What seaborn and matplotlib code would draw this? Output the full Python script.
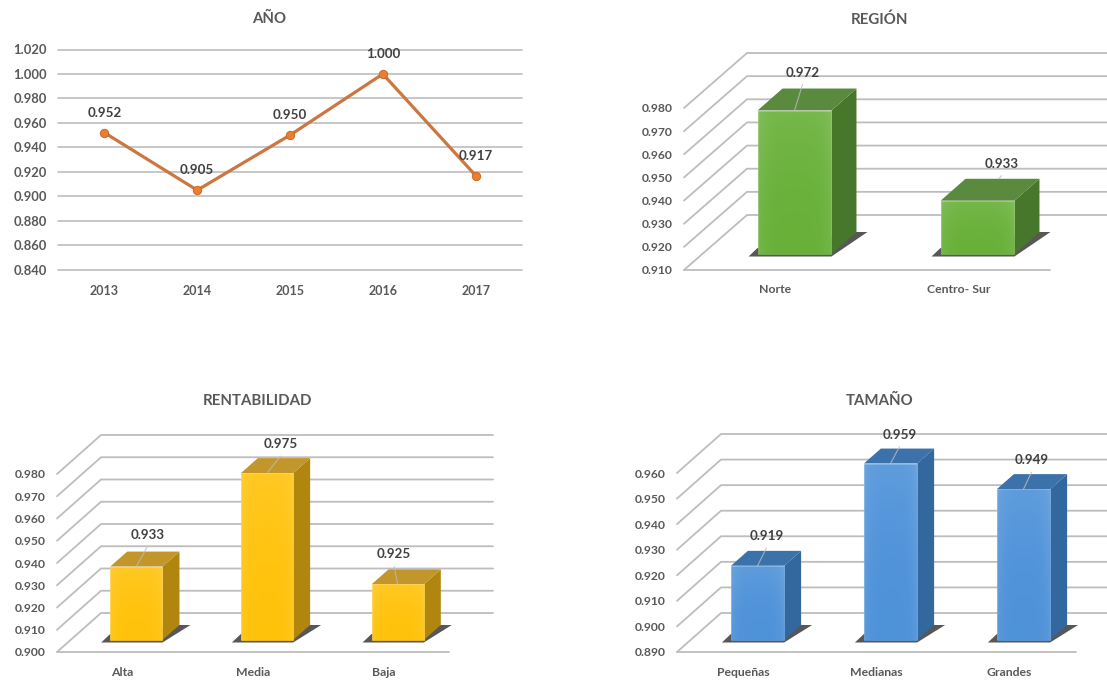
import numpy as np
import pandas as pd
import matplotlib
matplotlib.use("Agg")
import matplotlib.pyplot as plt
from matplotlib.patches import Polygon
import seaborn as sns

# ---------- data ----------
anio_cats = ["2013", "2014", "2015", "2016", "2017"]
anio_vals = [0.952, 0.905, 0.950, 1.000, 0.917]
anio_ticks = [0.84, 0.86, 0.88, 0.90, 0.92, 0.94, 0.96, 0.98, 1.00, 1.02]

region_cats = ["Norte", "Centro- Sur"]
region_vals = [0.972, 0.933]
region_ticks = [0.91, 0.92, 0.93, 0.94, 0.95, 0.96, 0.97, 0.98]

rent_cats = ["Alta", "Media", "Baja"]
rent_vals = [0.933, 0.975, 0.925]
rent_ticks = [0.90, 0.91, 0.92, 0.93, 0.94, 0.95, 0.96, 0.97, 0.98]

tam_cats = ["Pequeñas", "Medianas", "Grandes"]
tam_vals = [0.919, 0.959, 0.949]
tam_ticks = [0.89, 0.90, 0.91, 0.92, 0.93, 0.94, 0.95, 0.96]

# ---------- style ----------
sns.set_theme(style="white")
plt.rcParams["font.family"] = ["Lato", "DejaVu Sans"]
plt.rcParams["font.weight"] = "bold"

W, H = 1107, 681
GRID = "#BDBDBD"
TICK = "#595959"
LABEL = "#404040"
fig = plt.figure(figsize=(W / 100, H / 100), dpi=100, facecolor="white")


def px_axes(left, right, top, bottom):
    ax = fig.add_axes([left / W, 1 - bottom / H, (right - left) / W, (bottom - top) / H])
    ax.patch.set_alpha(0)
    for s in ax.spines.values():
        s.set_visible(False)
    return ax


def style_ticks(ax, ticks, xpad, ysize, xsize):
    ax.set_yticks(ticks)
    ax.set_yticklabels([f"{t:.3f}" for t in ticks])
    ax.set_xlabel("")
    ax.set_ylabel("")
    ax.tick_params(axis="y", length=0, pad=8, labelsize=ysize, labelcolor=TICK)
    ax.tick_params(axis="x", length=0, pad=xpad, labelsize=xsize, labelcolor=TICK)


def panel_3d(cats, vals, ticks, geom, colors, label_shift, xpad=10):
    left, right, top, bottom = geom["box"]
    ax = px_axes(left, right, top, bottom)
    frame = pd.DataFrame({"cat": cats, "val": vals})
    sns.barplot(data=frame, x="cat", y="val", ax=ax, color=colors["front"],
                width=geom["width"], saturation=1, errorbar=None, zorder=4)
    n = len(cats)
    ymin, ymax = ticks[0], ticks[-1]
    ax.set_xlim(-0.5, n - 0.5)
    ax.set_ylim(ymin, ymax)
    style_ticks(ax, ticks, xpad, 8.7, 8.8)

    ux = n / (right - left)             # data units per px
    uy = (ymax - ymin) / (bottom - top)
    ddx, ddy = geom["depth"][0] * ux, geom["depth"][1] * uy
    gdx, gdy = geom["gap"][0] * ux, geom["gap"][1] * uy
    bdx, bdy = geom["bar"][0] * ux, geom["bar"][1] * uy
    x0, x1 = -0.5, n - 0.5

    # walls: gridlines climb from the front edge to the back wall, then run across
    for t in ticks:
        ax.plot([x0, x0 + ddx, x1 + ddx], [t, t + ddy, t + ddy], color=GRID, lw=1.3,
                clip_on=False, zorder=1, solid_joinstyle="miter")
    ax.plot([x0, x1], [ymin, ymin], color=GRID, lw=1.3, clip_on=False, zorder=1)

    # bars: seaborn's rectangles moved onto the middle plane of the box, with depth faces
    for patch, v, shift in zip(ax.patches, vals, label_shift):
        xa = patch.get_x() + gdx
        xb = xa + patch.get_width()
        yb = ymin + gdy
        yt = v + gdy
        patch.set_x(xa)
        patch.set_y(yb)
        patch.set_height(v - ymin)
        patch.set_clip_on(False)
        patch.set_edgecolor(colors["edge"])
        patch.set_linewidth(0.5)

        shadow = [(xa - 9 * ux, yb - 2.5 * uy), (xb, yb - 2.5 * uy),
                  (xb + bdx + 11 * ux, yb + bdy), (xb + bdx, yb + bdy), (xa, yb + 6 * uy)]
        ax.add_patch(Polygon(shadow, closed=True, fc="#3A3A3A", ec="none", alpha=0.85,
                             zorder=2, clip_on=False))
        side = [(xb, yb), (xb + bdx, yb + bdy), (xb + bdx, yt + bdy), (xb, yt)]
        ax.add_patch(Polygon(side, closed=True, fc=colors["side"], ec="none", zorder=3,
                             clip_on=False))
        cap = [(xa, yt), (xa + bdx, yt + bdy), (xb + bdx, yt + bdy), (xb, yt)]
        ax.add_patch(Polygon(cap, closed=True, fc=colors["top"], ec="none", zorder=3,
                             clip_on=False))

        # soft sheen over the front face
        gx = np.linspace(-1, 1, 60)
        gy = np.linspace(0, 1, 60)
        xx, yy = np.meshgrid(gx, gy)
        sheen = np.ones((60, 60, 4))
        sheen[..., 3] = np.clip(0.02 + 0.08 * np.abs(xx) ** 4 + 0.09 * (1 - yy) ** 2, 0, 1)
        ax.imshow(sheen, extent=[xa, xb, yb, yt], aspect="auto", zorder=5,
                  interpolation="bilinear", clip_on=False)

        cx = (xa + xb) / 2
        lx = cx + shift[0] * ux
        ly = yt + shift[1] * uy
        far = abs(shift[0]) > 15
        sx = lx - 3 * ux if far else cx
        sy = yt + bdy if far else yt
        ax.plot([sx, lx], [sy, ly - 12 * uy], color="#BDBDBD", lw=0.8, alpha=0.8,
                zorder=6, clip_on=False)
        ax.text(lx, ly, f"{v:.3f}", ha="center", va="center", fontsize=9.6, color=LABEL,
                zorder=7, clip_on=False)
    ax.set_xlim(x0, x1)
    ax.set_ylim(ymin, ymax)
    return ax


# ---------- AÑO ----------
ax1 = px_axes(58, 522, 49.5, 269.7)
anio = pd.DataFrame({"anio": anio_cats, "val": anio_vals})
ax1.set_xlim(-0.5, 4.5)
ax1.set_ylim(anio_ticks[0], anio_ticks[-1])
for t in anio_ticks:
    ax1.axhline(t, color=GRID, lw=1.2, zorder=1, clip_on=False)
sns.lineplot(data=anio, x="anio", y="val", ax=ax1, color="#CC7640", lw=2.3, marker="o",
             markersize=6, markerfacecolor="#ED7D31", markeredgecolor="#C8692A",
             markeredgewidth=0.7, errorbar=None, zorder=3)
ax1.set_xlim(-0.5, 4.5)
ax1.set_ylim(anio_ticks[0], anio_ticks[-1])
style_ticks(ax1, anio_ticks, 11, 9.4, 9.0)
for i, v in enumerate(anio_vals):
    ax1.annotate(f"{v:.3f}", (i, v), xytext=(0, 14.4), textcoords="offset points",
                 ha="center", va="center", fontsize=9.6, color=LABEL, zorder=5)

# ---------- 3-D panels ----------
green = dict(front="#65AF35", side="#47772B", top="#5A8A3E", edge="#78B850")
gold = dict(front="#FFC107", side="#B0860F", top="#C2962A", edge="#FFCB30")
blue = dict(front="#4B90D8", side="#32689E", top="#3B72AA", edge="#5F9EDD")

panel_3d(region_cats, region_vals, region_ticks,
         dict(box=(684, 1050, 108, 270), width=0.404, depth=(63, 55), gap=(19, 16), bar=(25, 22)),
         green, [(8, 38), (24, 37)])
panel_3d(rent_cats, rent_vals, rent_ticks,
         dict(box=(57, 449, 474, 652), width=0.40, depth=(44, 39), gap=(14, 12), bar=(17, 15)),
         gold, [(11, 32), (13.5, 29), (-3.5, 30)], xpad=10.8)
panel_3d(tam_cats, tam_vals, tam_ticks,
         dict(box=(677, 1076, 473, 652), width=0.40, depth=(44, 39), gap=(14, 12), bar=(17, 15)),
         blue, [(9, 30), (9, 29), (8, 29)], xpad=10.8)

# ---------- titles ----------
for txt, x, y in [("AÑO", 269, 19), ("REGIÓN", 880, 20), ("RENTABILIDAD", 257, 401), ("TAMAÑO", 880, 401)]:
    fig.text(x / W, 1 - y / H, txt, ha="center", va="center", fontsize=10.8, color=TICK, fontweight="bold")

fig.savefig("out.png", dpi=100, facecolor="white")
